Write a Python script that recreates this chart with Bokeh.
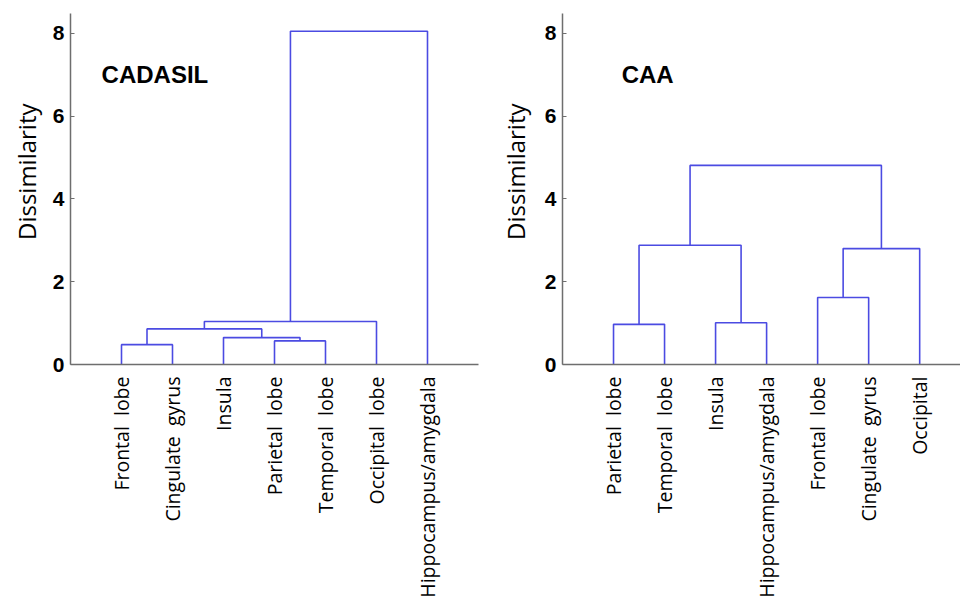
import math
from bokeh.plotting import figure
from bokeh.layouts import row
from bokeh.models import FixedTicker, Label, Range1d, Title
from bokeh.embed import file_html
from bokeh.resources import INLINE

# ---------------- data ----------------
cadasil_leaves = ["Frontal  lobe", "Cingulate  gyrus", "Insula", "Parietal  lobe",
                  "Temporal  lobe", "Occipital  lobe", "Hippocampus/amygdala"]
# merges: (child_a, child_b, height); leaves are 0..6, merged nodes numbered 7, 8, ...
cadasil_merges = [(0, 1, 0.48), (3, 4, 0.57), (2, 8, 0.65), (7, 9, 0.86),
                  (10, 5, 1.04), (11, 6, 8.05)]

caa_leaves = ["Parietal  lobe", "Temporal  lobe", "Insula", "Hippocampus/amygdala",
              "Frontal  lobe", "Cingulate  gyrus", "Occipital"]
caa_merges = [(0, 1, 0.97), (2, 3, 1.01), (4, 5, 1.62), (7, 8, 2.88),
              (9, 6, 2.80), (10, 11, 4.81)]

y_ticks = [0, 2, 4, 6, 8]
y_title = "Dissimilarity"

LINE = "#4b4be2"
AXIS = "#6e6e6e"


def dendro_paths(leaves, merges):
    pos = {i: (float(i + 1), 0.0) for i in range(len(leaves))}
    xs, ys = [], []
    nid = len(leaves)
    for a, b, h in merges:
        xa, ha = pos[a]
        xb, hb = pos[b]
        xs.append([xa, xa, xb, xb])
        ys.append([ha, h, h, hb])
        pos[nid] = ((xa + xb) / 2.0, h)
        nid += 1
    return xs, ys


def shown(name):
    # keep the doubled space visible in SVG text
    return name.replace("  ", " \u00a0")


def make_panel(leaves, merges, title, width, border_left, border_right, x_end, title_x,
               ytitle_standoff):
    p = figure(width=width, height=600, output_backend="svg", toolbar_location=None,
               x_range=Range1d(0, x_end), y_range=Range1d(0, 8.48),
               min_border_left=border_left, min_border_right=border_right,
               min_border_top=13, min_border_bottom=0)
    p.outline_line_color = None
    p.grid.visible = False
    p.background_fill_color = "white"
    p.border_fill_color = "white"

    xs, ys = dendro_paths(leaves, merges)
    p.multi_line(xs=xs, ys=ys, line_color=LINE, line_width=1.6)

    # y axis
    ya = p.yaxis[0]
    ya.ticker = FixedTicker(ticks=y_ticks)
    ya.minor_tick_line_color = None
    ya.major_tick_in = 4
    ya.major_tick_out = 0
    ya.major_tick_line_color = AXIS
    ya.axis_line_color = AXIS
    ya.axis_line_width = 1.5
    ya.major_label_text_font = "Liberation Sans"
    ya.major_label_text_font_style = "bold"
    ya.major_label_text_font_size = "21px"
    ya.major_label_text_color = "black"
    ya.major_label_standoff = 6

    # y title, a little above the frame centre as in the original
    p.add_layout(Title(text=y_title, align="right", offset=90, standoff=ytitle_standoff,
                       text_font="Open Sans", text_font_size="24px",
                       text_font_style="normal", text_color="black"), "left")

    # x axis
    xa = p.xaxis[0]
    xa.ticker = FixedTicker(ticks=[i + 1 for i in range(len(leaves))])
    xa.major_label_overrides = {i + 1: shown(name) for i, name in enumerate(leaves)}
    xa.major_label_orientation = math.pi / 2
    xa.minor_tick_line_color = None
    xa.major_tick_line_color = None
    xa.major_tick_in = 0
    xa.major_tick_out = 0
    xa.axis_line_color = AXIS
    xa.axis_line_width = 1.5
    xa.major_label_text_font = "Open Sans"
    xa.major_label_text_font_size = "19.5px"
    xa.major_label_text_color = "black"
    xa.major_label_standoff = 12

    p.add_layout(Label(x=title_x, y=7.0, text=title, text_font="Liberation Sans",
                       text_font_style="bold", text_font_size="24px",
                       text_baseline="middle", text_color="black"))
    return p


p1 = make_panel(cadasil_leaves, cadasil_merges, "CADASIL", 480, 70, 2, 8.0, 0.61, 13)
p2 = make_panel(caa_leaves, caa_merges, "CAA", 480, 82, 0, 7.8, 1.16, 20)

layout = row(p1, p2)
open("out.html", "w").write(file_html(layout, INLINE))
